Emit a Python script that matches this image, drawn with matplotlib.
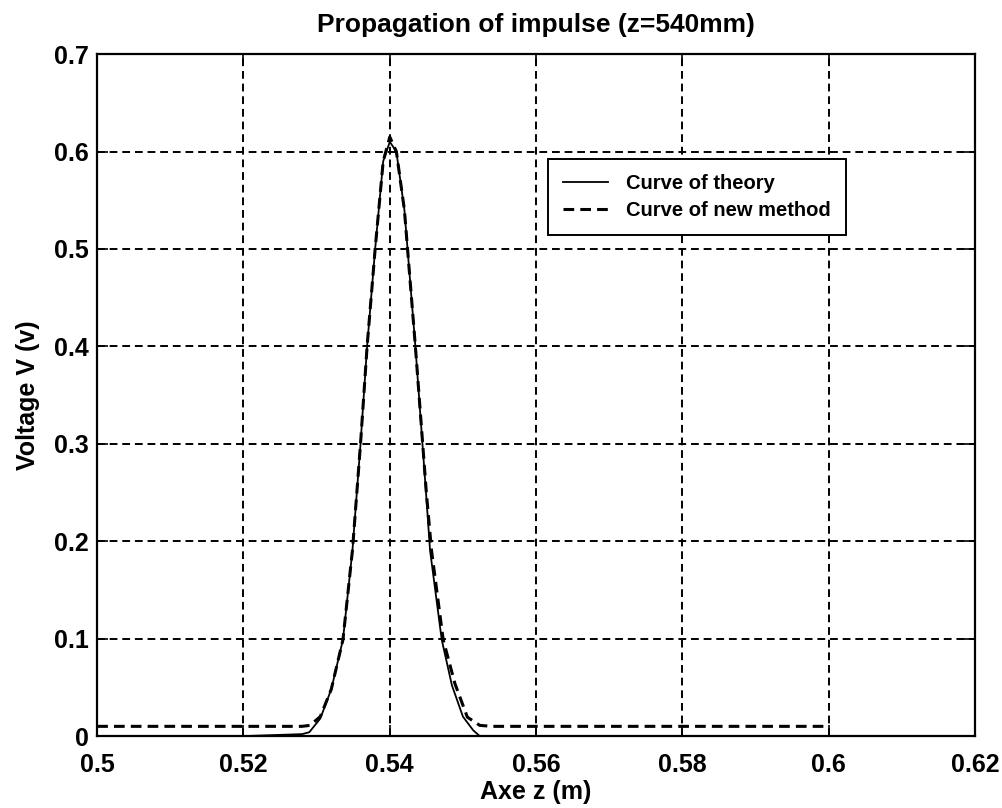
import matplotlib.pyplot as plt
from matplotlib.lines import Line2D

plt.rcParams['font.family'] = ['Liberation Sans', 'DejaVu Sans']
plt.rcParams['font.weight'] = 'bold'

# Theoretical impulse at z = 540 mm
z_theory = [0.500, 0.520, 0.528, 0.529, 0.5305, 0.532, 0.5336, 0.5349, 0.536, 0.5369,
            0.538, 0.5391, 0.5400, 0.5409, 0.542, 0.5435, 0.545, 0.5455, 0.5471, 0.5485,
            0.550, 0.5514, 0.5523, 0.560, 0.600]
v_theory = [0.0, 0.0, 0.002, 0.004, 0.018, 0.048, 0.099, 0.191, 0.30, 0.40,
            0.50, 0.59, 0.61, 0.60, 0.54, 0.40, 0.245, 0.191, 0.099, 0.052,
            0.020, 0.006, 0.0, 0.0, 0.0]

# Result of the new method
z_new = [0.500, 0.520, 0.528, 0.5291, 0.5305, 0.532, 0.5336, 0.5349, 0.536, 0.5369,
         0.538, 0.5391, 0.5400, 0.5409, 0.542, 0.5435, 0.545, 0.5457, 0.5473, 0.5489,
         0.5506, 0.5523, 0.554, 0.570, 0.600]
v_new = [0.010, 0.010, 0.010, 0.011, 0.020, 0.048, 0.099, 0.191, 0.30, 0.40,
         0.50, 0.59, 0.615, 0.60, 0.54, 0.40, 0.25, 0.191, 0.099, 0.054,
         0.0195, 0.011, 0.010, 0.010, 0.010]

xticks = [0.5, 0.52, 0.54, 0.56, 0.58, 0.6, 0.62]
xtick_labels = ['0.5', '0.52', '0.54', '0.56', '0.58', '0.6', '0.62']
yticks = [0, 0.1, 0.2, 0.3, 0.4, 0.5, 0.6, 0.7]
ytick_labels = ['0', '0.1', '0.2', '0.3', '0.4', '0.5', '0.6', '0.7']

fig = plt.figure(figsize=(10.02, 8.08), dpi=100)
ax = fig.add_axes([0.097, 0.089, 0.876, 0.844])

ax.plot(z_theory, v_theory, color='black', lw=1.3)
ax.plot(z_new, v_new, color='black', lw=2.2, dashes=(3.5, 2))

ax.set_xlim(0.5, 0.62)
ax.set_ylim(0, 0.7)
ax.set_xticks(xticks)
ax.set_xticklabels(xtick_labels)
ax.set_yticks(yticks)
ax.set_yticklabels(ytick_labels)
ax.tick_params(direction='in', length=8, width=1.2, top=True, right=True,
               labelsize=18)
ax.tick_params(axis='x', pad=12)
ax.tick_params(axis='y', pad=6)
for s in ax.spines.values():
    s.set_linewidth(1.6)

ax.grid(True, color='black', lw=1.4, dashes=(4, 2.5))

ax.set_title('Propagation of impulse (z=540mm)', fontsize=19, fontweight='bold', pad=16)
ax.set_xlabel('Axe z (m)', fontsize=18, fontweight='bold', labelpad=2)
ax.set_ylabel('Voltage V (v)', fontsize=18, fontweight='bold', labelpad=10)

handles = [Line2D([], [], color='black', lw=1.3),
           Line2D([], [], color='black', lw=2.2, dashes=(3.5, 2))]
leg = ax.legend(handles, ['Curve of theory', 'Curve of new method'],
                loc='upper left', bbox_to_anchor=(0.514, 0.846), fontsize=14.5,
                fancybox=False, framealpha=1, edgecolor='black',
                handlelength=2.2, borderpad=0.75, labelspacing=0.4,
                handletextpad=0.9, borderaxespad=0)
leg.get_frame().set_linewidth(1.4)

fig.savefig('out.png', dpi=100, facecolor='white')
